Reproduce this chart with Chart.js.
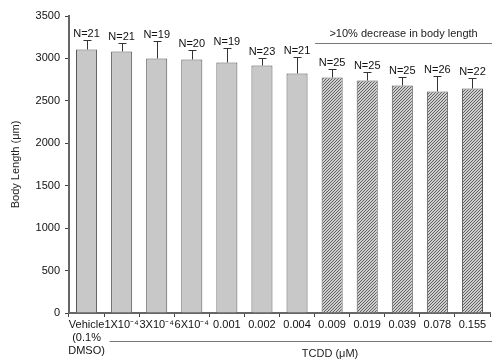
<!DOCTYPE html>
<html>
<head>
<meta charset="utf-8">
<script src="https://cdn.jsdelivr.net/npm/chart.js@4"></script>
<style>
  html, body { margin: 0; padding: 0; background: #fff; }
  #wrap { width: 493px; height: 361px; }
</style>
</head>
<body>
<div id="wrap"><canvas id="c" width="493" height="361"></canvas></div>
<script>
// data
const categories = [['Vehicle', '(0.1%', 'DMSO)'], '1X10\u207B\u2074', '3X10\u207B\u2074', '6X10\u207B\u2074',
  '0.001', '0.002', '0.004', '0.009', '0.019', '0.039', '0.078', '0.155'];
const meanLength = [3106, 3083, 3000, 2988, 2953, 2917, 2823, 2776, 2740, 2681, 2611, 2646];
const errorTop = [3212, 3177, 3200, 3094, 3118, 3000, 3012, 2870, 2835, 2776, 2788, 2764];
const nLabels = ['N=21', 'N=21', 'N=19', 'N=20', 'N=19', 'N=23', 'N=21', 'N=25', 'N=25', 'N=25', 'N=26', 'N=22'];
const hatched = [false, false, false, false, false, false, false, true, true, true, true, true];
const yTicks = [0, 500, 1000, 1500, 2000, 2500, 3000, 3500];

const FONT = 'Arial, "Liberation Sans", sans-serif';
const GREY = '#c8c8c8';

// diagonal hatch, ~3px spacing
function makeHatch() {
  const s = 3;
  const p = document.createElement('canvas');
  p.width = s; p.height = s;
  const g = p.getContext('2d');
  g.fillStyle = '#cfcfcf';
  g.fillRect(0, 0, s, s);
  g.fillStyle = '#606060';
  // one dark pixel per row, shifted each row -> "/" lines
  for (let r = 0; r < s; r++) g.fillRect(s - 1 - r, r, 1, 1);
  return document.getElementById('c').getContext('2d').createPattern(p, 'repeat');
}
const hatch = makeHatch();

// error bars, N labels and the annotation lines
const extrasPlugin = {
  id: 'extras',
  afterDatasetsDraw(chart) {
    const ctx = chart.ctx;
    const x = chart.scales.x;
    const y = chart.scales.y;
    const meta = chart.getDatasetMeta(0);
    ctx.save();
    ctx.strokeStyle = '#333';
    ctx.lineWidth = 1;
    ctx.fillStyle = '#111';
    ctx.font = '11px ' + FONT;
    ctx.textAlign = 'center';
    ctx.textBaseline = 'bottom';
    meta.data.forEach((bar, i) => {
      const cx = Math.round(bar.x) + 0.5;
      const yTop = y.getPixelForValue(errorTop[i]);
      const yBar = y.getPixelForValue(meanLength[i]);
      ctx.beginPath();
      ctx.moveTo(cx, yBar);
      ctx.lineTo(cx, yTop);
      ctx.moveTo(cx - 4, Math.round(yTop) + 0.5);
      ctx.lineTo(cx + 4, Math.round(yTop) + 0.5);
      ctx.stroke();
      ctx.fillText(nLabels[i], bar.x, yTop - 1);
    });

    // ">10% decrease" bracket
    const x0 = x.getPixelForValue(7) - 17;
    const x1 = chart.width - 1;
    ctx.strokeStyle = '#777';
    ctx.beginPath();
    ctx.moveTo(x0, 43.5);
    ctx.lineTo(x1, 43.5);
    ctx.stroke();
    ctx.fillStyle = '#222';
    ctx.fillText('>10% decrease in body length', (x0 + x1) / 2, 39);

    // TCDD line under tick labels
    const t0 = x.getPixelForValue(1) - 12;
    ctx.beginPath();
    ctx.moveTo(t0, 341.5);
    ctx.lineTo(x1, 341.5);
    ctx.stroke();
    ctx.textBaseline = 'middle';
    ctx.fillText('TCDD (\u03BCM)', 330, 354);
    ctx.restore();
  }
};

new Chart(document.getElementById('c'), {
  type: 'bar',
  data: {
    labels: categories,
    datasets: [{
      data: meanLength,
      backgroundColor: hatched.map(h => h ? hatch : GREY),
      borderColor: '#555',
      borderWidth: 1,
      categoryPercentage: 1,
      barPercentage: 0.6
    }]
  },
  options: {
    responsive: false,
    animation: false,
    layout: { padding: { top: 16, right: 3, left: 0, bottom: 0 } },
    plugins: { legend: { display: false }, tooltip: { enabled: false } },
    scales: {
      x: {
        grid: { display: true, drawOnChartArea: false, tickLength: 4, color: '#444' },
        border: { color: '#666', width: 2 },
        ticks: {
          color: '#111', font: { size: 11, family: FONT },
          maxRotation: 0, minRotation: 0, autoSkip: false, padding: 1
        },
        afterFit(s) { s.height = 48; }
      },
      y: {
        min: 0, max: 3500,
        afterBuildTicks(s) { s.ticks = yTicks.map(v => ({ value: v })); },
        grid: { display: true, drawOnChartArea: false, tickLength: 4, color: '#444' },
        border: { color: '#666', width: 2 },
        ticks: {
          color: '#111', font: { size: 11, family: FONT }, padding: 5,
          callback: v => String(v)
        },
        title: {
          display: true, text: 'Body Length (\u03BCm)', color: '#222',
          font: { size: 11, family: FONT }, padding: { top: 9, bottom: 0 }
        },
        afterFit(s) { s.width = 69; }
      }
    }
  },
  plugins: [extrasPlugin]
});
</script>
</body>
</html>
